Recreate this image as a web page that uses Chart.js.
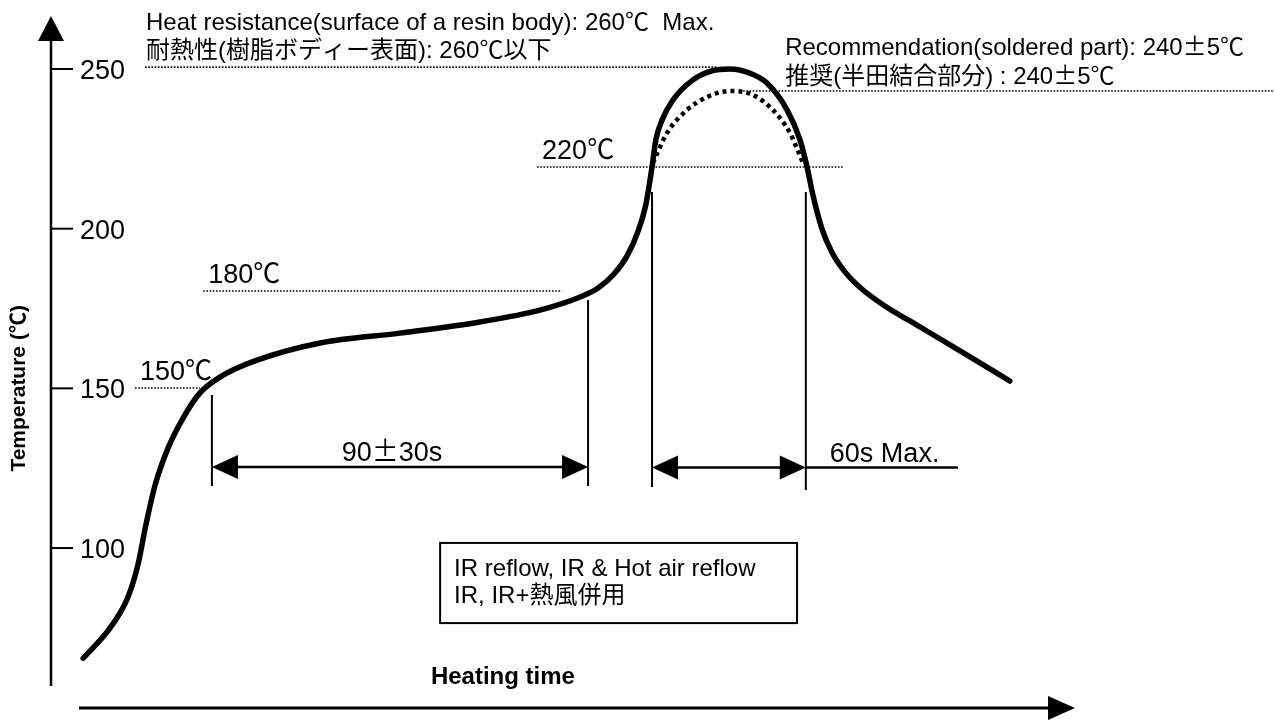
<!DOCTYPE html>
<html>
<head>
<meta charset="utf-8">
<title>Reflow profile</title>
<script src="https://cdn.jsdelivr.net/npm/chart.js@4.4.1/dist/chart.umd.min.js"></script>
<style>
  html, body { margin: 0; padding: 0; background: #fff; }
  #wrap { width: 1274px; height: 720px; }
</style>
</head>
<body>
<div id="wrap"><canvas id="reflow" width="1274" height="720"></canvas></div>
<script>
// Perfil de reflow: tiempo (s, aprox.) y temperatura (°C)
const profileTime = [7.7, 14.1, 18.4, 20.8, 22.7, 24.9, 28.0, 31.6, 35.6, 40.9, 48.8, 64.4, 83.5, 102.6,
  117.0, 126.6, 130.9, 134.7, 137.8, 140.4, 142.3, 143.8, 144.7, 146.2, 148.8, 153.6, 158.1, 162.4,
  167.2, 171.3, 176.1, 179.2, 180.9, 182.3, 184.4, 186.8, 190.0, 194.0, 199.5, 205.5, 217.2, 229.4];
const profileTemp = [65.5, 74.9, 84.6, 94.7, 107.2, 119.7, 131.3, 140.7, 148.5, 153.9, 158.6, 164.2, 167.3, 170.8,
  174.5, 178.6, 181.4, 185.8, 191.4, 199.0, 207.4, 219.3, 227.8, 234.0, 240.3, 246.6, 249.4, 250.0,
  248.7, 245.6, 237.2, 227.8, 219.3, 210.5, 200.2, 192.7, 186.4, 181.1, 175.8, 171.1, 162.0, 152.3];

// Curva recomendada (punteada)
const recTime = [144.0, 147.4, 152.2, 156.9, 162.4, 167.9, 172.7, 176.8, 179.9];
const recTemp = [220.6, 230.0, 237.2, 241.2, 243.1, 241.9, 237.2, 230.0, 220.6];

// Lineas guia punteadas: 260 max, 240 recomendado, 220, 180, 150
const guideTemp = [250.6, 243.1, 219.3, 180.5, 150.1];
const guideStart = [22.5, 165.6, 116.3, 36.4, 20.1];
const guideEnd = [159.3, 292.6, 189.5, 122.2, 35.6];
const tempLabels = ['220℃', '180℃', '150℃'];

// Lineas verticales de cota
const markerTime = [38.5, 128.5, 143.8, 180.6];
const markerTop = [147.9, 177.7, 211.5, 211.5];
const markerBottom = [119.4, 119.4, 119.1, 118.2];

// Cotas con flecha
const spanStart = [38.5, 143.8];
const spanEnd = [128.5, 180.6];
const spanTemp = [125.4, 125.2];
const spanLabels = ['90±30s', '60s Max.'];
const tailEnd = 217;

const yTicks = [100, 150, 200, 250];

const headLines = ['Heat resistance(surface of a resin body): 260℃  Max.', '耐熱性(樹脂ボディー表面): 260℃以下'];
const recLines = ['Recommendation(soldered part): 240±5℃', '推奨(半田結合部分) : 240±5℃'];
const boxLines = ['IR reflow, IR & Hot air reflow', 'IR, IR+熱風併用'];

const LATIN = '"Liberation Sans", Arial, sans-serif';
const CJK = '"Noto Sans CJK JP", sans-serif';

// Dibuja texto mezclando fuente latina y japonesa (± y ℃ en ancho completo)
function drawText(ctx, text, x, y, size, opts = {}) {
  const weight = opts.bold ? 'bold ' : '';
  const latin = opts.family || LATIN;
  const runs = [];
  for (const ch of text) {
    const wide = /[±℃\u3000-\u9fff\uff00-\uffef]/.test(ch);
    const last = runs[runs.length - 1];
    if (last && last.wide === wide) last.s += ch;
    else runs.push({ wide, s: ch });
  }
  const fontFor = r => weight + size + 'px ' + (r.wide ? CJK : latin);
  let total = 0;
  runs.forEach(r => { ctx.font = fontFor(r); r.w = ctx.measureText(r.s).width; total += r.w; });
  let cx = opts.align === 'center' ? x - total / 2 : x;
  ctx.textAlign = 'left';
  ctx.textBaseline = 'alphabetic';
  runs.forEach(r => { ctx.font = fontFor(r); ctx.fillText(r.s, cx, y); cx += r.w; });
}

function tri(ctx, x1, y1, x2, y2, x3, y3) {
  ctx.beginPath();
  ctx.moveTo(x1, y1); ctx.lineTo(x2, y2); ctx.lineTo(x3, y3);
  ctx.closePath();
  ctx.fill();
}

function seg(ctx, x1, y1, x2, y2) {
  ctx.beginPath();
  ctx.moveTo(x1, y1); ctx.lineTo(x2, y2);
  ctx.stroke();
}

// Ejes con flecha, marcas, textos y puntas de flecha
const decor = {
  id: 'decor',
  afterDatasetsDraw(chart) {
    const ctx = chart.ctx;
    const xs = chart.scales.x, ys = chart.scales.y;
    const px = v => xs.getPixelForValue(v);
    const py = v => ys.getPixelForValue(v);
    const { left, right, top, bottom } = chart.chartArea;
    ctx.save();
    ctx.fillStyle = '#000';
    ctx.strokeStyle = '#000';

    // eje Y
    ctx.lineWidth = 2.5;
    seg(ctx, left, bottom, left, top + 22);
    tri(ctx, left, top, left - 13, top + 25, left + 13, top + 25);
    ctx.lineWidth = 2;
    yTicks.forEach(v => {
      seg(ctx, left, py(v), left + 22, py(v));
      drawText(ctx, String(v), left + 29, py(v) + 10, 27);
    });
    ctx.save();
    ctx.translate(18, py(150));
    ctx.rotate(-Math.PI / 2);
    drawText(ctx, 'Temperature (℃)', 0, 7, 21, { bold: true, align: 'center' });
    ctx.restore();

    // eje X
    const ay = bottom + 22;
    ctx.lineWidth = 3;
    seg(ctx, left + 28, ay, right - 25, ay);
    tri(ctx, right, ay, right - 27, ay - 12, right - 27, ay + 12);
    drawText(ctx, 'Heating time', px(90.9), ay - 24, 24, { bold: true });

    // textos de temperatura
    drawText(ctx, headLines[0], px(guideStart[0]) + 1, py(guideTemp[0]) - 37, 24);
    drawText(ctx, headLines[1], px(guideStart[0]) + 1, py(guideTemp[0]) - 9, 24);
    drawText(ctx, recLines[0], px(guideStart[1]) + 42, py(guideTemp[1]) - 36, 24);
    drawText(ctx, recLines[1], px(guideStart[1]) + 42, py(guideTemp[1]) - 7, 24);
    tempLabels.forEach((t, i) => {
      drawText(ctx, t, px(guideStart[i + 2]) + 5, py(guideTemp[i + 2]) - 8, 27);
    });

    // puntas de flecha y rotulos de cotas
    spanStart.forEach((s, i) => {
      const x1 = px(s), x2 = px(spanEnd[i]), y = py(spanTemp[i]);
      tri(ctx, x1, y, x1 + 26, y - 12, x1 + 26, y + 12);
      tri(ctx, x2, y, x2 - 26, y - 12, x2 - 26, y + 12);
    });
    drawText(ctx, spanLabels[0], (px(spanStart[0]) + px(spanEnd[0])) / 2 - 8, py(spanTemp[0]) - 6, 27, { align: 'center' });
    drawText(ctx, spanLabels[1], px(spanEnd[1]) + 24, py(spanTemp[1]) - 6, 27);

    // recuadro del metodo
    const bx1 = px(93.1), bx2 = px(178.5), by1 = py(101.6), by2 = py(76.5);
    ctx.lineWidth = 2;
    ctx.strokeRect(bx1, by1, bx2 - bx1, by2 - by1);
    drawText(ctx, boxLines[0], bx1 + 14, by1 + 33, 24);
    drawText(ctx, boxLines[1], bx1 + 14, by1 + 60, 24);
    ctx.restore();
  }
};

const lineSet = (xsArr, ysArr, style) => Object.assign({
  data: xsArr.map((x, i) => ({ x, y: ysArr[i] })),
  borderColor: '#000',
  pointRadius: 0,
  fill: false,
  clip: false,
  tension: 0
}, style);

const datasets = [];
guideTemp.forEach((t, i) => {
  datasets.push(lineSet([guideStart[i], guideEnd[i]], [t, t], { borderWidth: 1.6, borderDash: [1.6, 1.6] }));
});
markerTime.forEach((t, i) => {
  datasets.push(lineSet([t, t], [markerTop[i], markerBottom[i]], { borderWidth: 2 }));
});
spanStart.forEach((s, i) => {
  datasets.push(lineSet([s + 4, spanEnd[i] - 4], [spanTemp[i], spanTemp[i]], { borderWidth: 2.5 }));
});
datasets.push(lineSet([spanEnd[1], tailEnd], [spanTemp[1], spanTemp[1]], { borderWidth: 2.5 }));
datasets.push(lineSet(recTime, recTemp, { borderWidth: 4.5, borderDash: [4, 4], cubicInterpolationMode: 'monotone' }));
datasets.push(lineSet(profileTime, profileTemp, { borderWidth: 5.5, cubicInterpolationMode: 'monotone', borderCapStyle: 'round' }));

new Chart(document.getElementById('reflow'), {
  type: 'line',
  data: { datasets },
  options: {
    responsive: false,
    animation: false,
    events: [],
    layout: { padding: { left: 51, right: 199, top: 16, bottom: 34 } },
    scales: {
      x: { type: 'linear', min: 0, max: 245, display: false },
      y: { type: 'linear', min: 56.8, max: 266.6, display: false }
    },
    plugins: { legend: { display: false }, tooltip: { enabled: false } }
  },
  plugins: [decor]
});
</script>
</body>
</html>
